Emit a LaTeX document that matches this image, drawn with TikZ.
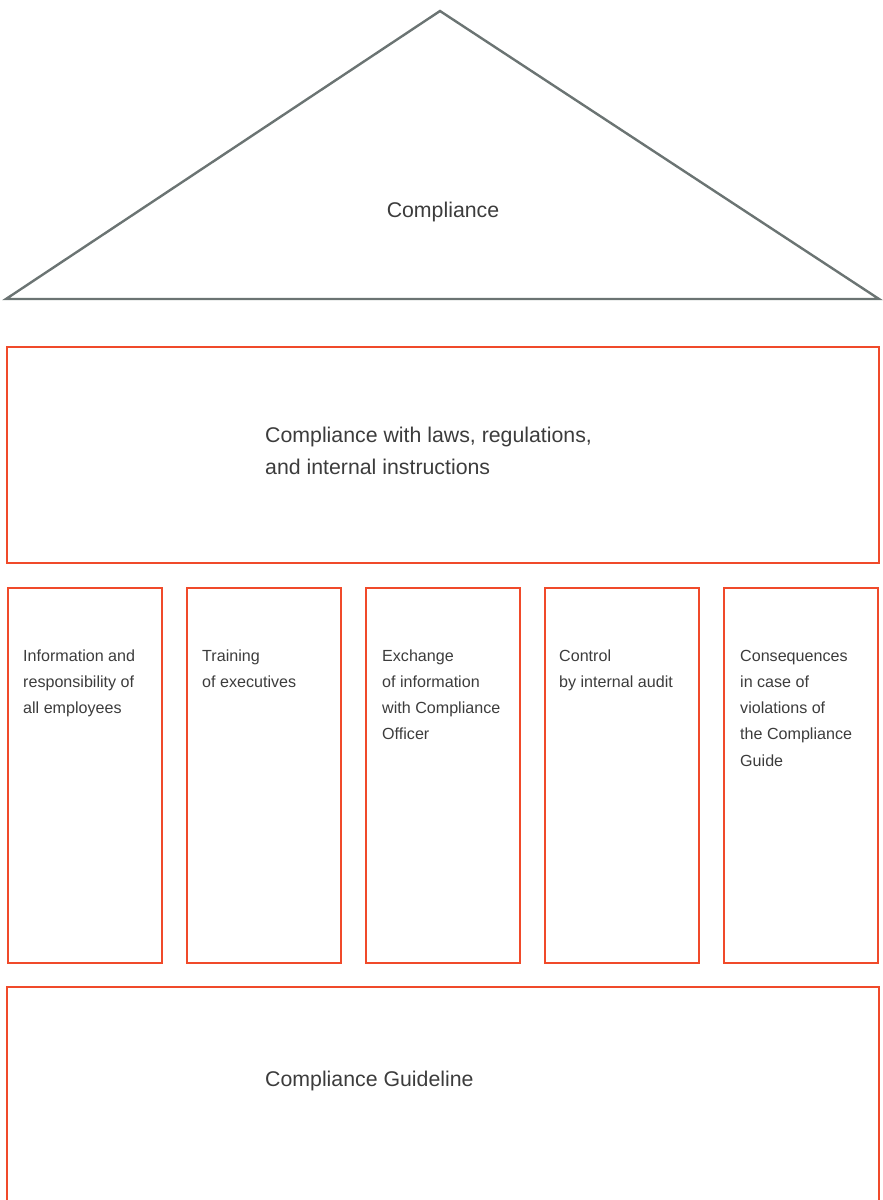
\documentclass[tikz,border=0pt]{standalone}
\usepackage{fontspec}
\setmainfont{Liberation Sans}
\definecolor{roof}{HTML}{6B7473}
\definecolor{brick}{HTML}{F04A2A}
\definecolor{ink}{HTML}{3C3C3C}
\begin{document}
\begin{tikzpicture}[x=1pt,y=-1pt,
  box/.style={draw=brick,line width=2.4pt,rectangle,inner sep=0pt},
  big/.style={text=ink,inner sep=0pt,anchor=base west,align=left,font={\fontsize{21.3}{32}\selectfont}},
  small/.style={text=ink,inner sep=0pt,anchor=base west,align=left,font={\fontsize{16.1}{26.3}\selectfont}}]
\useasboundingbox (0,0) rectangle (883,1200);
\clip (0,0) rectangle (883,1200);
% roof
\coordinate (apex) at (440,11);
\coordinate (bl) at (6,299);
\coordinate (br) at (879,299);
\draw[roof,line width=2.4pt,line join=miter] (apex) -- (br) -- (bl) -- cycle;
\node[big,anchor=base] (roofText) at (443,217) {Compliance};
% top beam
\node[box,minimum width=872pt,minimum height=216pt,anchor=north west] (beam) at (6,346) {};
\node[big] (beamText) at (265,474) {Compliance with laws, regulations,\\and internal instructions};
% pillars
\node[box,minimum width=154pt,minimum height=375pt,anchor=north west] (p1) at (7,587) {};
\node[box,minimum width=154pt,minimum height=375pt,anchor=north west] (p2) at (186,587) {};
\node[box,minimum width=154pt,minimum height=375pt,anchor=north west] (p3) at (365,587) {};
\node[box,minimum width=154pt,minimum height=375pt,anchor=north west] (p4) at (544,587) {};
\node[box,minimum width=154pt,minimum height=375pt,anchor=north west] (p5) at (723,587) {};
% base anchor = baseline of last line
\node[small] (t1) at (23,713.6) {Information and\\responsibility of\\all employees};
\node[small] (t2) at (202,687.3) {Training\\of executives};
\node[small] (t3) at (382,739.9) {Exchange\\of information\\with Compliance\\Officer};
\node[small] (t4) at (559,687.3) {Control\\by internal audit};
\node[small] (t5) at (740,766.2) {Consequences\\in case of\\violations of\\the Compliance\\Guide};
% foundation
\node[box,minimum width=872pt,minimum height=260pt,anchor=north west] (base) at (6,986) {};
\node[big] (baseText) at (265,1086) {Compliance Guideline};
\end{tikzpicture}
\end{document}
